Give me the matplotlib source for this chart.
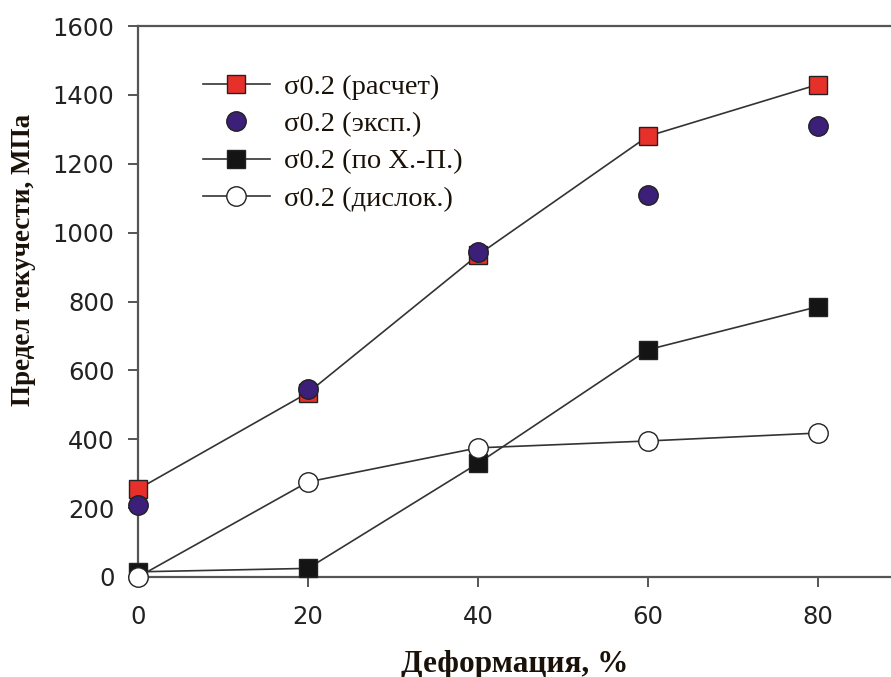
import numpy as np
import matplotlib.pyplot as plt

# deformation, %
deform = [0, 20, 40, 60, 80]

# yield strength, MPa
sigma_calc = [255, 535, 935, 1280, 1430]
sigma_exp = [210, 545, 945, 1110, 1310]
sigma_hp = [15, 25, 330, 660, 785]
sigma_disl = [0, 276, 375, 395, 418]

labels = ['σ0.2 (расчет)', 'σ0.2 (эксп.)', 'σ0.2 (по Х.-П.)', 'σ0.2 (дислок.)']
x_ticks = [0, 20, 40, 60, 80]
y_ticks = [0, 200, 400, 600, 800, 1000, 1200, 1400, 1600]

LINE_COL = '#333333'
SERIF = ['Liberation Serif', 'DejaVu Serif']


def main():
    fig = plt.figure(figsize=(8.91, 6.77), dpi=100)
    ax = fig.add_axes([138 / 891, 100 / 677, 753 / 891, 551 / 677])

    common = dict(color=LINE_COL, linewidth=1.2, markeredgecolor='#222222',
                  markeredgewidth=1.0, clip_on=False, zorder=3)
    ax.plot(deform, sigma_calc, marker='s', markersize=13,
            markerfacecolor='#e8302a', label=labels[0], **common)
    ax.plot(deform, sigma_exp, marker='o', markersize=14, linestyle='none',
            markerfacecolor='#3b1f78', label=labels[1], **common)
    ax.plot(deform, sigma_hp, marker='s', markersize=13,
            markerfacecolor='#141414', label=labels[2], **common)
    ax.plot(deform, sigma_disl, marker='o', markersize=14,
            markerfacecolor='white', label=labels[3], **common)

    ax.set_xlim(0, 88.6)
    ax.set_ylim(0, 1600)
    ax.set_xticks(x_ticks)
    ax.set_yticks(y_ticks)

    for side in ['left', 'bottom', 'top']:
        ax.spines[side].set_color('#555555')
        ax.spines[side].set_linewidth(1.6)
    ax.spines['right'].set_visible(False)

    ax.tick_params(axis='both', direction='out', length=7, width=1.4,
                   color='#555555', labelsize=17.5, labelcolor='#222222')
    ax.tick_params(axis='x', pad=13)
    ax.tick_params(axis='y', pad=10)

    ax.set_xlabel('Деформация, %', family=SERIF, fontweight='bold',
                  fontsize=22.5, color='#1a1208', labelpad=15)
    # y label sits above the axes centre in the original
    fig.text(24 / 891, 1 - 260 / 677, 'Предел текучести, МПа', family=SERIF,
             fontweight='bold', fontsize=19.5, color='#1a1208',
             rotation=90, ha='center', va='center')

    leg = ax.legend(loc='upper left', bbox_to_anchor=(203 / 891, 1 - 74 / 677),
                    bbox_transform=fig.transFigure, frameon=False,
                    prop={'family': SERIF, 'size': 20.5}, handlelength=2.35,
                    handletextpad=0.5, labelspacing=0.4, borderpad=0,
                    borderaxespad=0)
    for t in leg.get_texts():
        t.set_color('#1a1208')

    fig.savefig('out.png', dpi=100)


if __name__ == '__main__':
    main()
